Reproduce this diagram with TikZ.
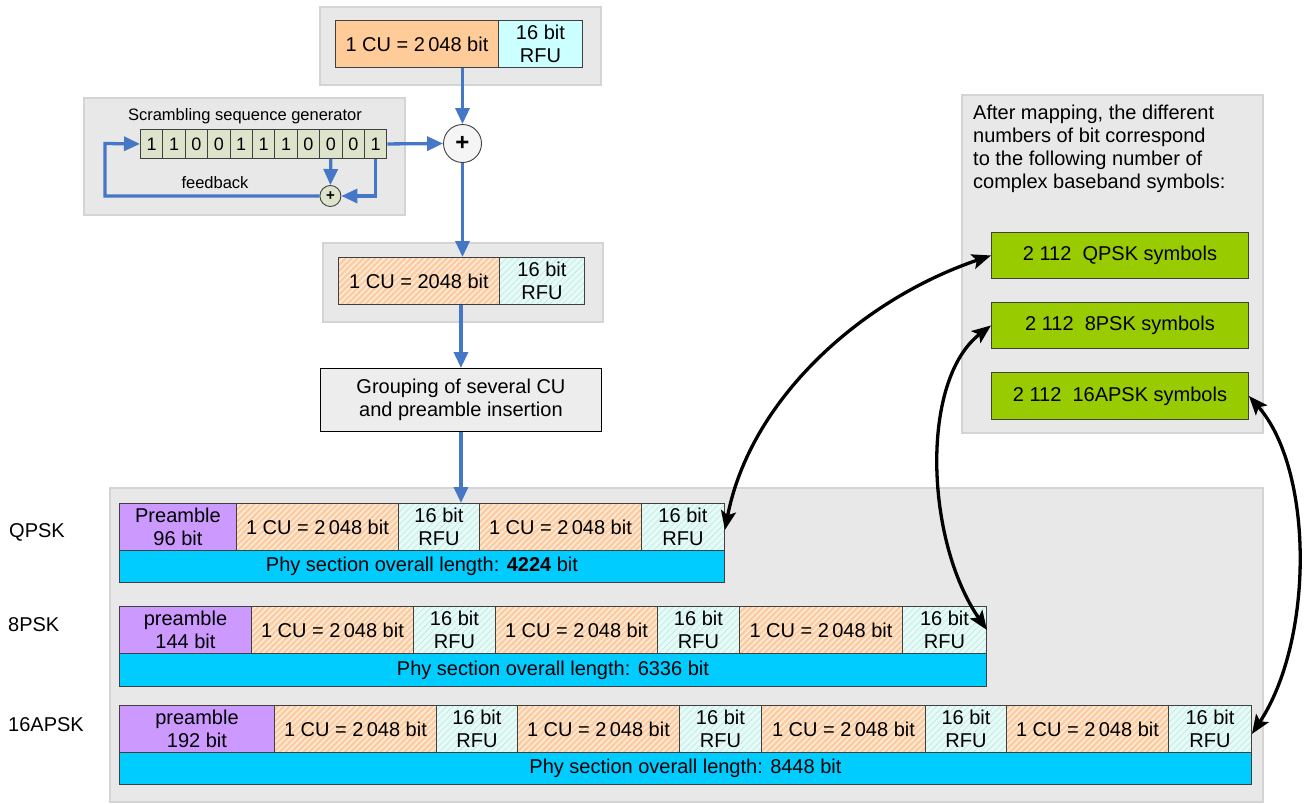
\documentclass[tikz,border=0pt]{standalone}
\usepackage{fontspec}
\setmainfont{Liberation Sans}
\usetikzlibrary{arrows.meta,patterns.meta}
\definecolor{gbg}{HTML}{E8E8E8}
\definecolor{gbd}{HTML}{D4D4D4}
\definecolor{cellbd}{HTML}{404040}
\definecolor{ora}{HTML}{FFCC99}
\definecolor{oraH}{HTML}{FBCCA2}
\definecolor{oraL}{HTML}{FFEBD8}
\definecolor{cya}{HTML}{CCFFFF}
\definecolor{cyaH}{HTML}{E4FCF7}
\definecolor{cyaL}{HTML}{CDE6E1}
\definecolor{pur}{HTML}{CC99FF}
\definecolor{barc}{HTML}{00CCFF}
\definecolor{grn}{HTML}{99CC00}
\definecolor{blu}{HTML}{4676C6}
\definecolor{regc}{HTML}{DDE4CB}
\newcommand\fsz{\fontsize{20}{23}\selectfont}
\newcommand\fss{\fontsize{16.5}{19}\selectfont}
\newcommand\cellbox[7]{\node[cell,#6,minimum width={#3-#2},minimum height={#5-#4}] (#1) at (#2,#4) {#7};}
\tikzset{
  gbox/.style={fill=gbg, draw=gbd, line width=1.2pt},
  cell/.style={draw=cellbd, line width=0.9pt, inner sep=0pt, anchor=north west, align=center, font=\fsz, text=black},
  solO/.style={fill=ora},
  solC/.style={fill=cya},
  hO/.style={preaction={fill=oraH}, preaction={pattern={Lines[angle=45,distance=4.2pt,line width=1.6pt]}, pattern color=oraL}},
  hC/.style={preaction={fill=cyaH}, preaction={pattern={Lines[angle=45,distance=4.5pt,line width=0.8pt]}, pattern color=cyaL}},
  pre/.style={fill=pur},
  barx/.style={fill=barc},
  gbx/.style={fill=grn},
  reg/.style={draw=cellbd, line width=0.9pt, fill=regc, inner sep=0pt, anchor=north west, font=\fontsize{18}{20}\selectfont},
  bline/.style={draw=blu, line width=3.3pt},
  barrow/.style={draw=blu, line width=3.3pt, -{Triangle[length=16pt,width=14pt]}},
  karrow/.style={draw=black, line width=3.3pt, {Stealth[length=19pt,width=15pt,inset=4pt]}-{Stealth[length=19pt,width=15pt,inset=4pt]}},
  lbl/.style={font=\fsz, inner sep=0pt, anchor=west}
}
\begin{document}
\begin{tikzpicture}[x=1pt,y=-1pt]
\useasboundingbox (0,0) rectangle (1305,803);
% background panels
\draw[gbox] (320,7) rectangle (601,85);
\draw[gbox] (84,98) rectangle (405,215);
\draw[gbox] (323,243) rectangle (603,322);
\draw[gbox] (962,95) rectangle (1263,433);
\draw[gbox] (110,488) rectangle (1263,802);

% top CU
\cellbox{cua}{335}{498}{20}{67}{solO}{1 CU = 2\,048 bit}
\cellbox{rfa}{498}{582}{20}{67}{solC}{16 bit\\RFU}

% scrambler
\node[font=\fss, inner sep=0pt] (stitle) at (245,116) {Scrambling sequence generator};
\foreach \b [count=\i] in {1,1,0,0,1,1,1,0,0,0,1} {
  \node[reg, minimum width=22.4, minimum height=29] (r\i) at ({140+22.4*(\i-1)},129) {\b};
}
\node[circle, draw=cellbd, line width=0.9pt, fill=regc, minimum size=21pt, inner sep=0pt, font=\fontsize{15}{15}\selectfont\bfseries] (sx) at (330.4,196) {+};
\node[circle, draw=cellbd, line width=0.9pt, fill=gray!8, minimum size=38pt, inner sep=0pt, font=\fontsize{24}{24}\selectfont\bfseries] (circ) at (462.5,143.5) {+};
\node[font=\fss, inner sep=0pt] (fbl) at (215,183) {feedback};
\coordinate (fb) at (105,143.5);
\draw[barrow] (r9.south) -- (sx.north);
\draw[barrow] (r11.south) |- (sx.east);
\draw[barrow] (sx.west) -| (fb) -- (r1.west);
\draw[barrow] (r11.east) -- (circ.west);
\draw[barrow] (circ.north |- cua.south) -- (circ.north);

% second CU
\cellbox{cub}{338}{499}{257}{304}{hO}{1 CU = 2048 bit}
\cellbox{rfb}{499}{584}{257}{304}{hC}{16 bit\\RFU}
\draw[barrow] (circ.south) -- (circ.south |- cub.north);

% grouping
\node[draw=black, line width=0.9pt, fill=gbg!80!white, minimum width=281pt, minimum height=63pt, anchor=north west, inner sep=0pt, align=center, font=\fsz] (grp) at (320,368) {Grouping of several CU\\and preamble insertion};
\draw[barrow] (grp.north |- cub.south) -- (grp.north);

% right panel
\node[font=\fsz, inner sep=0pt, anchor=north west, align=left] (maptxt) at (973,105) {After mapping, the different\\numbers of bit correspond\\to the following number of\\complex baseband symbols:};
\cellbox{g1}{991}{1248}{232}{278}{gbx}{2 112\ \ QPSK symbols}
\cellbox{g2}{991}{1248}{302}{348}{gbx}{2 112\ \ 8PSK symbols}
\cellbox{g3}{991}{1248}{372}{419}{gbx}{2 112\ \ 16APSK symbols}

% row labels
\node[lbl] (lq) at (9,532) {QPSK};
\node[lbl] (le) at (8,625) {8PSK};
\node[lbl] (ls) at (8,725) {16APSK};

% QPSK row
\cellbox{q1}{119}{236}{503}{550}{pre}{Preamble\\96 bit}
\cellbox{q2}{236}{398}{503}{550}{hO}{1 CU = 2\,048 bit}
\cellbox{q3}{398}{479}{503}{550}{hC}{16 bit\\RFU}
\cellbox{q4}{479}{641}{503}{550}{hO}{1 CU = 2\,048 bit}
\cellbox{q5}{641}{724}{503}{550}{hC}{16 bit\\RFU}
\cellbox{qb}{119}{724}{550}{582}{barx}{Phy section overall length: \textbf{4224} bit}
\draw[barrow] (grp.south) -- (grp.south |- q3.north);

% 8PSK row
\cellbox{e1}{119}{251}{606}{653}{pre}{preamble\\144 bit}
\cellbox{e2}{251}{413}{606}{653}{hO}{1 CU = 2\,048 bit}
\cellbox{e3}{413}{495}{606}{653}{hC}{16 bit\\RFU}
\cellbox{e4}{495}{657}{606}{653}{hO}{1 CU = 2\,048 bit}
\cellbox{e5}{657}{739}{606}{653}{hC}{16 bit\\RFU}
\cellbox{e6}{739}{902}{606}{653}{hO}{1 CU = 2\,048 bit}
\cellbox{e7}{902}{986}{606}{653}{hC}{16 bit\\RFU}
\cellbox{eb}{119}{986}{653}{686}{barx}{Phy section overall length: 6336 bit}

% 16APSK row
\cellbox{s1}{119}{274}{705}{752}{pre}{preamble\\192 bit}
\cellbox{s2}{274}{436}{705}{752}{hO}{1 CU = 2\,048 bit}
\cellbox{s3}{436}{517}{705}{752}{hC}{16 bit\\RFU}
\cellbox{s4}{517}{679}{705}{752}{hO}{1 CU = 2\,048 bit}
\cellbox{s5}{679}{761}{705}{752}{hC}{16 bit\\RFU}
\cellbox{s6}{761}{925}{705}{752}{hO}{1 CU = 2\,048 bit}
\cellbox{s7}{925}{1006}{705}{752}{hC}{16 bit\\RFU}
\cellbox{s8}{1006}{1168}{705}{752}{hO}{1 CU = 2\,048 bit}
\cellbox{s9}{1168}{1251}{705}{752}{hC}{16 bit\\RFU}
\cellbox{sb}{119}{1251}{752}{784}{barx}{Phy section overall length: 8448 bit}

% mapping arrows
\draw[karrow] (g1.west) .. controls (860,300) and (750,400) .. ([yshift=-3pt]q5.east);
\draw[karrow] (g2.west) .. controls (920,380) and (925,540) .. (e7.east);
\draw[karrow] (g3.east) .. controls (1314,470) and (1314,640) .. ([yshift=-5pt]s9.east);
\end{tikzpicture}
\end{document}
